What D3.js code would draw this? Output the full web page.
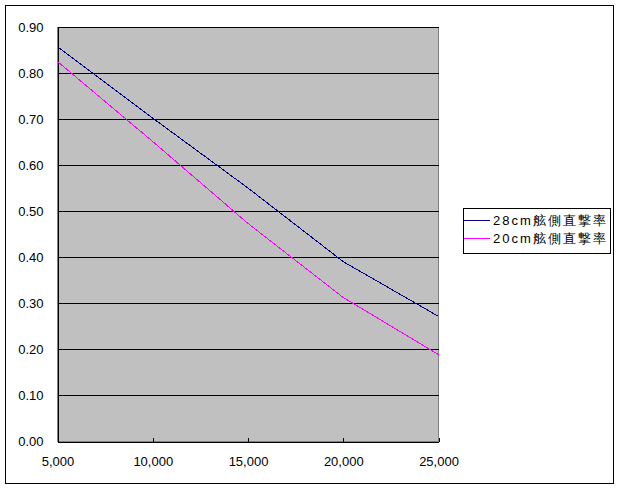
<!DOCTYPE html>
<html>
<head>
<meta charset="utf-8">
<script src="https://cdn.jsdelivr.net/npm/d3@7"></script>
<style>
  html, body { margin: 0; padding: 0; background: #fff; }
  svg { display: block; }
  text { font-family: "Liberation Sans", Arial, sans-serif; fill: #000; }
</style>
</head>
<body>
<div id="chart"></div>
<script>
// ---- data ----
const xValues = [5000, 10000, 15000, 20000, 25000];
const series28 = [0.858, 0.703, 0.551, 0.391, 0.272];
const series20 = [0.826, 0.652, 0.474, 0.313, 0.189];
const seriesNames = ["28cm舷側直撃率", "20cm舷側直撃率"];
const seriesColors = ["#000080", "#FF00FF"];
const yTicks = [0, 0.1, 0.2, 0.3, 0.4, 0.5, 0.6, 0.7, 0.8, 0.9];
const xTicks = [5000, 10000, 15000, 20000, 25000];

const W = 620, H = 489;
const svg = d3.select("#chart").append("svg").attr("width", W).attr("height", H);

// outer frame
svg.append("rect").attr("x", 5.5).attr("y", 5.5).attr("width", 608).attr("height", 478)
  .attr("fill", "#fff").attr("stroke", "#000").attr("stroke-width", 1);

const x = d3.scaleLinear().domain([5000, 25000]).range([57.5, 438.5]);
const y = d3.scaleLinear().domain([0, 0.9]).range([441.5, 27.5]);

// plot area
svg.append("rect").attr("x", x(5000)).attr("y", y(0.9))
  .attr("width", x(25000) - x(5000)).attr("height", y(0) - y(0.9))
  .attr("fill", "#C0C0C0").attr("stroke", "#808080").attr("stroke-width", 1)
  .attr("shape-rendering", "crispEdges");

// gridlines
svg.append("g").selectAll("line").data(yTicks.filter(d => d > 0)).join("line")
  .attr("x1", x(5000)).attr("x2", x(25000))
  .attr("y1", d => y(d)).attr("y2", d => y(d))
  .attr("stroke", "#000").attr("shape-rendering", "crispEdges");

// y axis
const yAxis = d3.axisLeft(y).tickValues(yTicks).tickFormat(d3.format(".2f")).tickSize(0).tickPadding(14);
const gy = svg.append("g").attr("transform", `translate(${x(5000)},0)`).call(yAxis);
gy.select(".domain").attr("stroke", "#000").attr("shape-rendering", "crispEdges");
gy.selectAll("text").attr("font-size", 13).attr("font-family", "Liberation Sans, Arial, sans-serif");

// x axis
const xAxis = d3.axisBottom(x).tickValues(xTicks).tickFormat(d3.format(",")).tickSizeInner(-4).tickSizeOuter(0).tickPadding(15);
const gx = svg.append("g").attr("transform", `translate(0,${y(0)})`).call(xAxis);
gx.select(".domain").attr("stroke", "#000").attr("shape-rendering", "crispEdges");
gx.selectAll(".tick line").attr("stroke", "#000").attr("shape-rendering", "crispEdges");
gx.selectAll("text").attr("font-size", 13).attr("font-family", "Liberation Sans, Arial, sans-serif");

// lines
const line = d3.line().x((d, i) => x(xValues[i])).y(d => y(d));
[series28, series20].forEach((s, k) => {
  svg.append("path").datum(s).attr("d", line)
    .attr("fill", "none").attr("stroke", seriesColors[k]).attr("stroke-width", 1)
    .attr("shape-rendering", "crispEdges");
});

// legend
const lg = svg.append("g");
lg.append("rect").attr("x", 463.5).attr("y", 208.5).attr("width", 147).attr("height", 45)
  .attr("fill", "#fff").attr("stroke", "#000").attr("shape-rendering", "crispEdges");
seriesNames.forEach((name, k) => {
  const yy = 220.5 + k * 18;
  lg.append("line").attr("x1", 464).attr("x2", 490).attr("y1", yy).attr("y2", yy)
    .attr("stroke", seriesColors[k]).attr("shape-rendering", "crispEdges");
  lg.append("text").attr("x", 493).attr("y", yy).attr("dy", "0.36em")
    .attr("font-size", 13)
    .attr("font-family", "'Noto Sans CJK JP', sans-serif")
    .attr("textLength", 113).attr("lengthAdjust", "spacing")
    .text(name);
});
</script>
</body>
</html>
